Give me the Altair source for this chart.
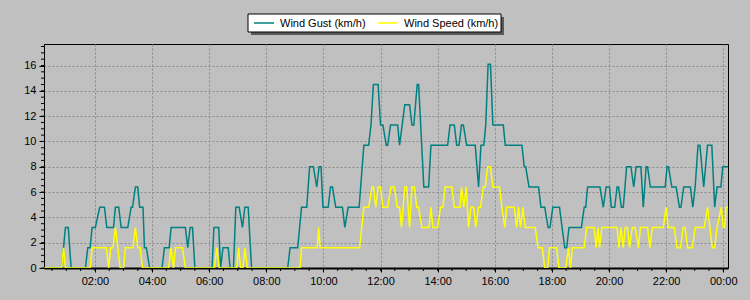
import altair as alt
import pandas as pd

# ---------------- data ----------------
series_names = ["Wind Gust (km/h)", "Wind Speed (km/h)"]
series_colors = ["#008080", "#ffff00"]

gust_time = [
    "00:14", "00:50", "00:58", "01:04", "01:10", "01:40", "01:45", "01:50", "01:54", "02:01",
    "02:10", "02:20", "02:25", "02:39", "02:43", "02:50", "02:55", "03:09", "03:16", "03:19",
    "03:25", "03:30", "03:34", "03:41", "03:44", "03:48", "03:55", "04:21", "04:26", "04:36",
    "04:40", "05:10", "05:15", "05:20", "05:25", "05:30", "06:06", "06:10", "06:20", "06:24",
    "06:29", "06:40", "06:44", "06:51", "06:56", "07:03", "07:10", "07:15", "07:22", "07:29",
    "08:45", "08:50", "09:06", "09:14", "09:25", "09:31", "09:39", "09:46", "09:51", "09:55",
    "09:59", "10:10", "10:15", "10:19", "10:26", "10:40", "10:45", "10:52", "11:15", "11:25",
    "11:35", "11:40", "11:45", "11:55", "12:00", "12:05", "12:12", "12:15", "12:21", "12:36",
    "12:40", "12:51", "13:01", "13:06", "13:10", "13:17", "13:20", "13:31", "13:41", "13:46",
    "14:21", "14:26", "14:35", "14:40", "14:45", "14:50", "14:54", "15:01", "15:19", "15:26",
    "15:31", "15:37", "15:41", "15:46", "15:51", "15:56", "16:18", "16:22", "16:57", "17:02",
    "17:05", "17:12", "17:32", "17:37", "17:45", "17:52", "17:56", "18:02", "18:16", "18:27",
    "18:31", "18:36", "19:02", "19:08", "19:11", "19:15", "19:41", "19:48", "19:54", "20:01",
    "20:05", "20:12", "20:17", "20:20", "20:26", "20:30", "20:37", "20:46", "20:52", "20:57",
    "21:07", "21:12", "21:18", "21:21", "21:27", "21:58", "22:02", "22:05", "22:12", "22:21",
    "22:28", "22:31", "22:37", "22:51", "22:56", "23:01", "23:07", "23:11", "23:19", "23:27",
    "23:36", "23:42", "23:47", "23:55", "23:59", "00:10",
]
gust_kmh = [
    0, 0, 3.2, 3.2, 0, 0, 1.6, 1.6, 3.2, 3.2,
    4.8, 4.8, 3.2, 3.2, 4.8, 4.8, 3.2, 3.2, 4.8, 4.8,
    6.4, 6.4, 4.8, 4.8, 1.6, 1.6, 0, 0, 1.6, 1.6,
    3.2, 3.2, 1.6, 3.2, 3.2, 0, 0, 3.2, 3.2, 0,
    1.6, 1.6, 0, 0, 4.8, 4.8, 3.2, 4.8, 4.8, 0,
    0, 1.6, 1.6, 4.8, 4.8, 8.0, 8.0, 6.4, 8.0, 8.0,
    4.8, 4.8, 6.4, 6.4, 4.8, 4.8, 3.2, 4.8, 4.8, 9.7,
    9.7, 11.3, 14.5, 14.5, 11.3, 11.3, 9.7, 9.7, 11.3, 11.3,
    9.7, 12.9, 12.9, 11.3, 11.3, 14.5, 14.5, 6.4, 6.4, 9.7,
    9.7, 11.3, 11.3, 9.7, 9.7, 11.3, 11.3, 9.7, 9.7, 6.4,
    9.7, 9.7, 11.3, 16.1, 16.1, 11.3, 11.3, 9.7, 9.7, 8.0,
    8.0, 6.4, 6.4, 4.8, 4.8, 3.2, 3.2, 4.8, 4.8, 1.6,
    1.6, 3.2, 3.2, 4.8, 4.8, 6.4, 6.4, 4.8, 6.4, 6.4,
    4.8, 4.8, 6.4, 6.4, 4.8, 4.8, 8.0, 8.0, 6.4, 8.0,
    8.0, 4.8, 8.0, 8.0, 6.4, 6.4, 8.0, 8.0, 6.4, 6.4,
    4.8, 4.8, 6.4, 6.4, 4.8, 6.4, 9.7, 9.7, 6.4, 9.7,
    9.7, 4.8, 6.4, 6.4, 8.0, 8.0,
]

speed_time = [
    "00:14", "00:50", "00:54", "00:58", "01:50", "01:54", "02:24", "02:29", "02:33", "02:38",
    "02:43", "02:53", "03:00", "03:04", "03:20", "03:25", "03:30", "03:35", "03:40", "04:35",
    "04:40", "04:45", "04:49", "05:04", "05:10", "06:11", "06:16", "06:21", "06:58", "07:02",
    "07:06", "07:11", "07:15", "07:20", "09:11", "09:14", "09:47", "09:50", "09:53", "11:16",
    "11:25", "11:35", "11:42", "11:45", "11:50", "11:55", "12:00", "12:05", "12:15", "12:22",
    "12:29", "12:35", "12:40", "12:44", "12:51", "12:55", "13:01", "13:06", "13:11", "13:16",
    "13:20", "13:27", "13:42", "13:46", "13:50", "14:00", "14:06", "14:11", "14:16", "14:30",
    "14:35", "14:47", "14:50", "14:55", "15:00", "15:05", "15:10", "15:16", "15:20", "15:26",
    "15:30", "15:36", "15:40", "15:45", "15:51", "15:56", "16:10", "16:15", "16:21", "16:25",
    "16:41", "16:46", "16:50", "16:54", "16:59", "17:04", "17:25", "17:31", "17:40", "17:45",
    "17:51", "17:55", "18:10", "18:15", "18:29", "18:35", "18:39", "18:43", "19:08", "19:13",
    "19:29", "19:33", "19:37", "19:40", "19:45", "20:17", "20:21", "20:25", "20:30", "20:34",
    "20:39", "20:43", "20:49", "20:55", "21:02", "21:06", "21:21", "21:26", "21:31", "21:54",
    "22:00", "22:04", "22:17", "22:23", "22:30", "22:36", "22:40", "22:45", "22:55", "23:01",
    "23:20", "23:27", "23:37", "23:42", "23:47", "23:56", "00:00", "00:03", "00:06", "00:10",
]
speed_kmh = [
    0, 0, 1.6, 0, 0, 1.6, 1.6, 0, 1.6, 1.6,
    3.2, 0, 0, 1.6, 1.6, 3.2, 1.6, 1.6, 0, 0,
    1.6, 0, 1.6, 1.6, 0, 0, 1.6, 0, 0, 1.6,
    0, 0, 1.6, 0, 0, 1.6, 1.6, 3.2, 1.6, 1.6,
    4.8, 4.8, 6.4, 6.4, 4.8, 6.4, 6.4, 4.8, 4.8, 6.4,
    6.4, 4.8, 4.8, 3.2, 6.4, 6.4, 3.2, 6.4, 6.4, 4.8,
    4.8, 3.2, 3.2, 4.8, 3.2, 3.2, 4.8, 4.8, 6.4, 6.4,
    4.8, 4.8, 6.4, 4.8, 6.4, 3.2, 4.8, 4.8, 3.2, 4.8,
    4.8, 6.4, 6.4, 8.0, 8.0, 6.4, 6.4, 4.8, 3.2, 4.8,
    4.8, 3.2, 4.8, 3.2, 4.8, 3.2, 3.2, 1.6, 1.6, 0,
    0, 1.6, 1.6, 0, 0, 1.6, 0, 1.6, 1.6, 3.2,
    3.2, 1.6, 3.2, 1.6, 3.2, 3.2, 1.6, 3.2, 1.6, 3.2,
    3.2, 1.6, 3.2, 3.2, 1.6, 3.2, 3.2, 1.6, 3.2, 3.2,
    4.8, 3.2, 3.2, 1.6, 1.6, 3.2, 3.2, 1.6, 1.6, 3.2,
    3.2, 4.8, 1.6, 1.6, 3.2, 4.8, 3.2, 3.2, 4.8, 4.8,
]

x_tick_labels = ["02:00", "04:00", "06:00", "08:00", "10:00", "12:00",
                 "14:00", "16:00", "18:00", "20:00", "22:00", "00:00"]
x_range = ["00:13", "00:10"]
y_ticks = [0, 2, 4, 6, 8, 10, 12, 14, 16]
y_max = 17.7

W, H = 684, 224


def to_stamps(times):
    out, day, prev = [], 1, -1
    for t in times:
        h, m = map(int, t.split(":"))
        mins = h * 60 + m
        if mins < prev:
            day += 1
        prev = mins
        out.append((day, h, m))
    return out


def iso(d):
    return f"2024-01-{d[0]:02d}T{d[1]:02d}:{d[2]:02d}:00"


def dt(d):
    return alt.DateTime(year=2024, month=1, date=d[0], hours=d[1], minutes=d[2])


gust_df = pd.DataFrame({"time": [iso(d) for d in to_stamps(gust_time)], "kmh": gust_kmh})
speed_df = pd.DataFrame({"time": [iso(d) for d in to_stamps(speed_time)], "kmh": speed_kmh})

minor_x_times = [f"{h:02d}:{m:02d}" for h in range(0, 24) for m in (0, 30)][1:] + ["00:00"]
minor_x_df = pd.DataFrame({"time": [iso(d) for d in to_stamps(minor_x_times)]})
minor_y_df = pd.DataFrame({"kmh": [v / 2 for v in range(0, 36)]})

x_scale = alt.Scale(domain=[dt(d) for d in to_stamps(x_range)])
y_scale = alt.Scale(domain=[0, y_max], nice=False, zero=True)

x_axis = alt.Axis(values=[dt(d) for d in to_stamps(x_tick_labels)], format="%H:%M",
                  title=None, tickSize=4, labelPadding=3, domainWidth=2,
                  grid=True, labelFlush=False)
y_axis = alt.Axis(values=y_ticks, title=None, tickSize=5, labelPadding=3,
                  grid=True, format="d")


def X(field="time"):
    return alt.X(f"{field}:T", scale=x_scale, axis=x_axis)


def Y(field="kmh"):
    return alt.Y(f"{field}:Q", scale=y_scale, axis=y_axis)


one = pd.DataFrame({"k": [0]})

# ---- legend box (drawn above the plot, pixel offsets relative to plot origin) ----
LX, LY, LW, LH = 204, -30, 253, 18
legend_shadow = alt.Chart(one).mark_rect(color="#5a5a5a").encode(
    x=alt.value(LX + 3), x2=alt.value(LX + LW + 3),
    y=alt.value(LY + 3), y2=alt.value(LY + LH + 3),
)
legend_box = alt.Chart(one).mark_rect(fill="white", stroke="black", strokeWidth=1).encode(
    x=alt.value(LX), x2=alt.value(LX + LW), y=alt.value(LY), y2=alt.value(LY + LH),
)
legend_layers = []
for name, col, sx, tx in [(series_names[0], series_colors[0], LX + 6, LX + 32),
                          (series_names[1], series_colors[1], LX + 130, LX + 156)]:
    legend_layers.append(
        alt.Chart(one).mark_rule(color=col, strokeWidth=1.5).encode(
            x=alt.value(sx), x2=alt.value(sx + 20),
            y=alt.value(LY + LH / 2), y2=alt.value(LY + LH / 2))
    )
    legend_layers.append(
        alt.Chart(pd.DataFrame({"label": [name]})).mark_text(
            align="left", baseline="middle", font="Liberation Sans", fontSize=11,
            color="black").encode(
            text="label:N", x=alt.value(tx), y=alt.value(LY + LH / 2 + 0.5))
    )

minor_x = alt.Chart(minor_x_df).mark_rule(color="black", strokeWidth=1).encode(
    x=X(), y=alt.value(H), y2=alt.value(H + 3)
)
minor_y = alt.Chart(minor_y_df).mark_rule(color="black", strokeWidth=1).encode(
    y=Y(), x=alt.value(-3), x2=alt.value(0)
)

gust = alt.Chart(gust_df).mark_line(strokeWidth=1.5, clip=True, color=series_colors[0]).encode(
    x=X(), y=Y()
)
speed = alt.Chart(speed_df).mark_line(strokeWidth=1.5, clip=True, color=series_colors[1]).encode(
    x=X(), y=Y()
)

chart = alt.layer(minor_x, minor_y, gust, speed, legend_shadow, legend_box,
                  *legend_layers).properties(
    width=W, height=H,
    autosize=alt.AutoSizeParams(type="none"),
    padding={"left": 44, "top": 44, "right": 22, "bottom": 32},
    background="#c0c0c0",
).configure_view(
    stroke="black", strokeWidth=1, fill="#c0c0c0"
).configure_axis(
    labelFont="Liberation Sans", labelFontSize=11, labelColor="black",
    tickColor="black", domainColor="black", gridColor="#8c8c8c",
    gridDash=[2, 2], gridWidth=1,
)

chart.save("out.html", embed_options={"renderer": "svg", "actions": False})
